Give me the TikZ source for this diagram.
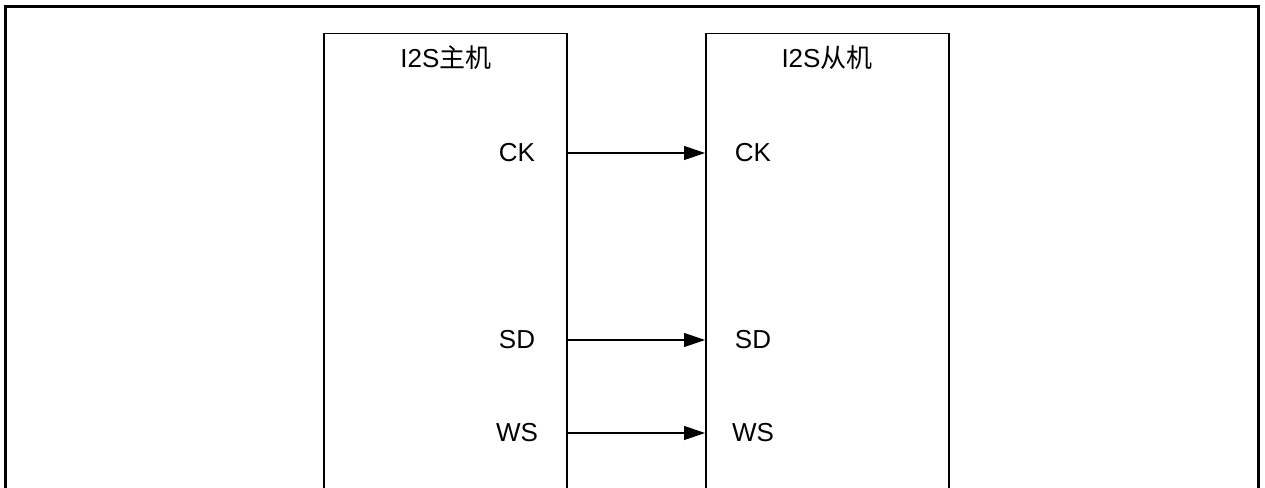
\documentclass[tikz,border=0pt]{standalone}
\usepackage{fontspec}
\setmainfont{Liberation Sans}
\newfontfamily\cjk{Noto Sans CJK SC}
\usetikzlibrary{arrows.meta}
\begin{document}
\begin{tikzpicture}[x=1pt,y=-1pt,
  devbox/.style={draw,line width=1.5pt,minimum width=243pt,minimum height=480pt,anchor=north west,inner sep=0pt},
  sig/.style={font=\fontsize{26}{30}\selectfont,inner sep=0pt},
  ttl/.style={font=\fontsize{26}{30}\selectfont,inner sep=0pt},
  link/.style={line width=1.2pt,-{Triangle[length=21pt,width=14pt]}}]
\useasboundingbox (0,0) rectangle (1265,487);
\clip (0,0) rectangle (1265,487);
\draw[line width=3pt] (5,520) -- (5,7) -- (1258,7) -- (1258,520);
\node[devbox] (master) at (323,33) {};
\node[devbox] (slave) at (705,33) {};
\node[ttl] (mt) at (446,58) {I2S{\cjk 主机}};
\node[ttl] (st) at (827,58) {I2S{\cjk 从机}};
\node[sig] (mck) at (517,153) {CK};
\node[sig] (msd) at (517,340) {SD};
\node[sig] (mws) at (517,433) {WS};
\node[sig] (sck) at (753,153) {CK};
\node[sig] (ssd) at (753,340) {SD};
\node[sig] (sws) at (753,433) {WS};
\draw[link] (master.east |- mck) -- (slave.west |- sck);
\draw[link] (master.east |- msd) -- (slave.west |- ssd);
\draw[link] (master.east |- mws) -- (slave.west |- sws);
\end{tikzpicture}
\end{document}
